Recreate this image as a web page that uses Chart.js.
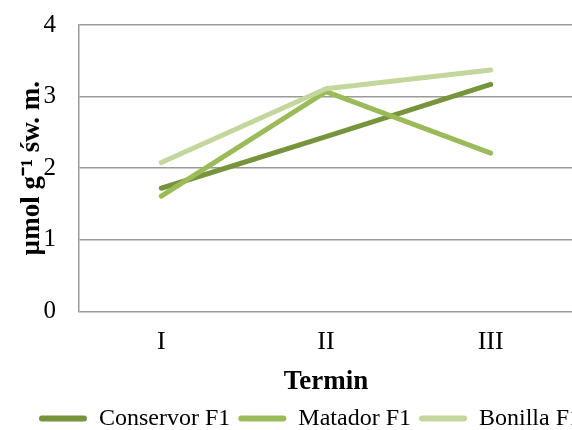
<!DOCTYPE html>
<html>
<head>
<meta charset="utf-8">
<script src="https://cdn.jsdelivr.net/npm/chart.js@4"></script>
<style>
  html, body { margin: 0; padding: 0; background: #ffffff; overflow: hidden; }
  #wrap { width: 620px; height: 430px; }
</style>
</head>
<body>
<div id="wrap"><canvas id="c" width="620" height="430"></canvas></div>
<script>
// Sampling dates
const categories = ['I', 'II', 'III'];

// Content per cultivar (µmol g⁻¹ św. m.)
const conservor = [1.72, 2.44, 3.17];
const matador   = [1.61, 3.07, 2.21];
const bonilla   = [2.08, 3.11, 3.37];

const seriesNames = ['Conservor F1', 'Matador F1', 'Bonilla F1'];
const seriesColors = ['#77933C', '#9BBB59', '#C3D69B'];

const yTicks = [0, 1, 2, 3, 4];

const serif = '"Liberation Serif", "Times New Roman", serif';
const gridColor = '#9a9a9a';

function line(name, data, color, order) {
  return {
    label: name,
    data: data,
    borderColor: color,
    backgroundColor: color,
    borderWidth: 5,
    borderCapStyle: 'round',
    borderJoinStyle: 'round',
    tension: 0,
    pointRadius: 0,
    pointHoverRadius: 0,
    fill: false,
    order: order
  };
}

new Chart(document.getElementById('c'), {
  type: 'line',
  data: {
    labels: categories,
    datasets: [
      line(seriesNames[0], conservor, seriesColors[0], 3),
      line(seriesNames[1], matador, seriesColors[1], 2),
      line(seriesNames[2], bonilla, seriesColors[2], 1)
    ]
  },
  options: {
    responsive: false,
    devicePixelRatio: 1,
    animation: false,
    layout: { padding: { top: 25, left: 0, right: 0, bottom: -10.6 } },
    plugins: {
      tooltip: { enabled: false },
      legend: {
        position: 'bottom',
        labels: {
          font: { family: serif, size: 24 },
          color: '#000000',
          boxWidth: 48,
          boxHeight: 6,
          useBorderRadius: true,
          borderRadius: 3,
          padding: 8,
          sort: (a, b) => a.datasetIndex - b.datasetIndex,
          generateLabels: (chart) => {
            const items = Chart.defaults.plugins.legend.labels.generateLabels(chart);
            items.forEach(it => { it.lineWidth = 0; });
            return items;
          }
        }
      }
    },
    scales: {
      x: {
        offset: true,
        grid: { display: false, drawTicks: false },
        border: { display: false },
        ticks: {
          font: { family: serif, size: 26 },
          color: '#000000',
          padding: 15.4
        },
        title: {
          display: true,
          text: 'Termin',
          font: { family: serif, size: 27, weight: 'bold' },
          color: '#000000',
          padding: { top: -7.2, bottom: 0 }
        }
      },
      y: {
        min: 0,
        max: 4,
        afterBuildTicks: (scale) => { scale.ticks = yTicks.map(v => ({ value: v })); },
        afterFit: (scale) => {
          scale.width = 79;
          scale.paddingTop = 0;
          scale.paddingBottom = 0;
        },
        grid: { color: gridColor, lineWidth: 1.5, drawTicks: false },
        border: { display: true, color: gridColor, width: 1.5 },
        ticks: {
          font: { family: serif, size: 25 },
          color: '#000000',
          padding: 23
        },
        title: {
          display: true,
          text: 'µmol g⁻¹ św. m.',
          font: { family: serif, size: 27, weight: 'bold' },
          color: '#000000',
          padding: { top: 15.8, bottom: 0 }
        }
      },
      spacer: {
        position: 'right',
        display: true,
        grid: { display: false, drawTicks: false },
        border: { display: false },
        ticks: { display: false },
        afterFit: (scale) => { scale.width = 47; }
      }
    }
  }
});
</script>
</body>
</html>
